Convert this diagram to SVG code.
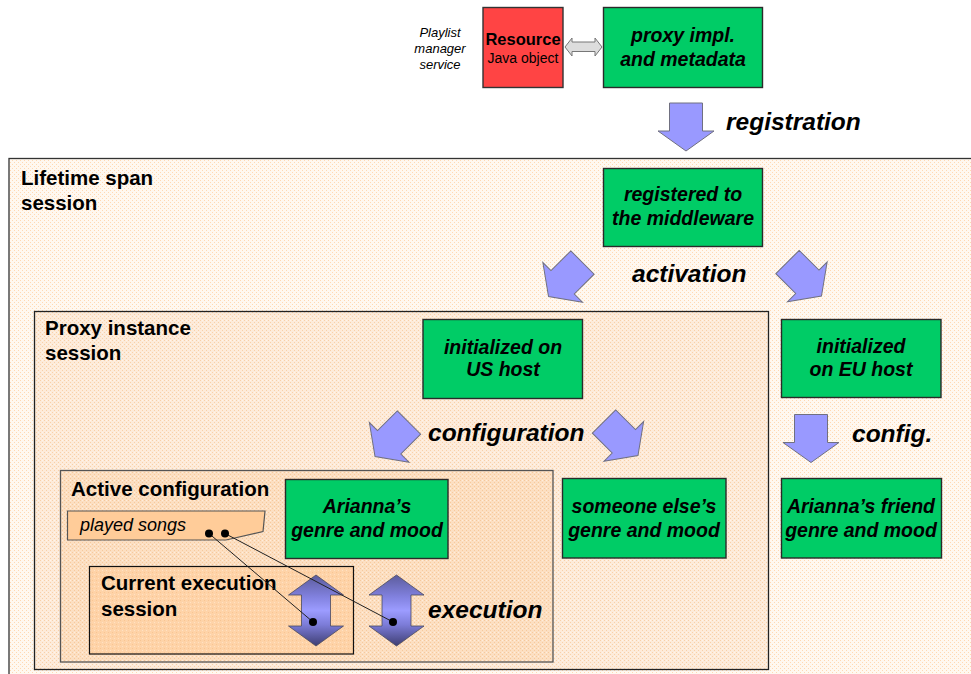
<svg xmlns="http://www.w3.org/2000/svg" width="971" height="674" viewBox="0 0 971 674">
  <defs>
    <style>
      text { font-family: "Liberation Sans", Arial, sans-serif; fill: #000; }
      .title { font-size: 20.5px; font-weight: bold; }
      .box-label { font-size: 19.5px; font-weight: bold; font-style: italic; text-anchor: middle; }
      .step { font-size: 24.5px; font-weight: bold; font-style: italic; }
      .green { fill: #00CC66; stroke: #2a2a2a; stroke-width: 1.4; }
      .flow { fill: #9999FF; stroke: #707080; stroke-width: 1; }
      .exec { fill: url(#execGrad); stroke: #4a4a5a; stroke-width: 0.8; }
      .link { stroke: #222; stroke-width: 1; fill: none; }
    </style>
    <!-- dithered fills of the nested session boxes -->
    <pattern id="pOuter" width="4" height="4" patternUnits="userSpaceOnUse">
      <rect width="4" height="4" fill="#FFF8F0"/>
      <rect x="0" y="0" width="1" height="1" fill="#FFD9B3"/>
      <rect x="2" y="2" width="1" height="1" fill="#FFD9B3"/>
    </pattern>
    <pattern id="pProxy" width="4" height="4" patternUnits="userSpaceOnUse">
      <rect width="4" height="4" fill="#FDEBDA"/>
      <rect x="0" y="0" width="1" height="1" fill="#F8D0A8"/>
      <rect x="2" y="2" width="1" height="1" fill="#F8D0A8"/>
      <rect x="2" y="0" width="1" height="1" fill="#FFF4EA"/>
    </pattern>
    <pattern id="pActive" width="4" height="4" patternUnits="userSpaceOnUse">
      <rect width="4" height="4" fill="#FCDFC2"/>
      <rect x="0" y="0" width="1" height="1" fill="#F6C99C"/>
      <rect x="2" y="2" width="1" height="1" fill="#F6C99C"/>
      <rect x="2" y="0" width="1" height="1" fill="#FFEEDD"/>
    </pattern>
    <pattern id="pExec" width="4" height="4" patternUnits="userSpaceOnUse">
      <rect width="4" height="4" fill="#FED3A8"/>
      <rect x="0" y="0" width="1" height="1" fill="#F9C592"/>
      <rect x="2" y="2" width="1" height="1" fill="#FFE2C4"/>
    </pattern>
    <linearGradient id="execGrad" x1="0" y1="0" x2="0" y2="1">
      <stop offset="0" stop-color="#5C5C9C"/>
      <stop offset="0.3" stop-color="#8080DD"/>
      <stop offset="0.5" stop-color="#9C9CFF"/>
      <stop offset="0.7" stop-color="#7C7CD8"/>
      <stop offset="1" stop-color="#3E3E72"/>
    </linearGradient>
    <!-- block arrow pointing down, centred on the origin -->
    <path id="blockArrow" d="M-16.5,-24 H16.5 V4 H28 L0,24 L-28,4 H-16.5 Z"/>
    <!-- vertical double-headed arrow -->
    <path id="dblArrow" d="M0,-36 L27.5,-16 H14.5 V15 H27.5 L0,35 L-27.5,15 H-14.5 V-16 H-27.5 Z"/>
  </defs>

  <rect width="971" height="674" fill="#FFFFFF"/>

  <!-- session containers -->
  <g id="lifetime-session">
    <rect x="9" y="158.5" width="990" height="540" fill="url(#pOuter)" stroke="#333" stroke-width="1.3"/>
    <text class="title" x="21" y="185">Lifetime span</text>
    <text class="title" x="21" y="210">session</text>
  </g>
  <g id="proxy-instance-session">
    <rect x="34.5" y="311.5" width="734" height="358" fill="url(#pProxy)" stroke="#222" stroke-width="1.3"/>
    <text class="title" x="45" y="335">Proxy instance</text>
    <text class="title" x="45" y="360">session</text>
  </g>
  <g id="active-configuration">
    <rect x="60.5" y="470.5" width="492.5" height="191.5" fill="url(#pActive)" stroke="#555" stroke-width="1.3"/>
    <text class="title" x="71" y="496">Active configuration</text>
  </g>
  <g id="current-execution-session">
    <rect x="89.5" y="566.5" width="264" height="87.5" fill="url(#pExec)" stroke="#111" stroke-width="1.2"/>
    <text class="title" x="101" y="590">Current execution</text>
    <text class="title" x="101" y="616">session</text>
  </g>

  <!-- top row -->
  <g id="playlist-service">
    <text x="440" y="37" font-size="13" font-style="italic" text-anchor="middle">Playlist</text>
    <text x="440" y="53" font-size="13" font-style="italic" text-anchor="middle">manager</text>
    <text x="440" y="69" font-size="13" font-style="italic" text-anchor="middle">service</text>
  </g>
  <g id="resource">
    <rect x="483" y="7.5" width="80" height="80" fill="#FF4444" stroke="#333" stroke-width="1.4"/>
    <text x="523" y="44.5" font-size="16.5" font-weight="bold" text-anchor="middle">Resource</text>
    <text x="523" y="62.5" font-size="14" text-anchor="middle">Java object</text>
  </g>
  <g id="proxy-impl">
    <rect class="green" x="603.5" y="7.5" width="159" height="80"/>
    <text class="box-label" x="683" y="42">proxy impl.</text>
    <text class="box-label" x="683" y="66">and metadata</text>
  </g>

  <!-- green state boxes -->
  <g id="registered">
    <rect class="green" x="603.5" y="168.5" width="159" height="78"/>
    <text class="box-label" x="683" y="201">registered to</text>
    <text class="box-label" x="683" y="225">the middleware</text>
  </g>
  <g id="init-us">
    <rect class="green" x="423" y="319.5" width="159.5" height="79"/>
    <text class="box-label" x="503" y="354">initialized on</text>
    <text class="box-label" x="503" y="376">US host</text>
  </g>
  <g id="init-eu">
    <rect class="green" x="781.5" y="319.5" width="159.5" height="78"/>
    <text class="box-label" x="861" y="353">initialized</text>
    <text class="box-label" x="861" y="376">on EU host</text>
  </g>
  <g id="arianna-config">
    <rect class="green" x="285.5" y="479.5" width="162.5" height="79"/>
    <text class="box-label" x="367" y="513">Arianna’s</text>
    <text class="box-label" x="367" y="537">genre and mood</text>
  </g>
  <g id="someone-config">
    <rect class="green" x="562.5" y="478.5" width="163.5" height="79.5"/>
    <text class="box-label" x="644" y="513">someone else’s</text>
    <text class="box-label" x="644" y="537">genre and mood</text>
  </g>
  <g id="friend-config">
    <rect class="green" x="781.5" y="478.5" width="160" height="79.5"/>
    <text class="box-label" x="861" y="513">Arianna’s friend</text>
    <text class="box-label" x="861" y="537">genre and mood</text>
  </g>
  <g id="played-songs">
    <polygon points="67.5,511 265,511 263,531.5 226,540 67.5,540" fill="#FFCC99" stroke="#555" stroke-width="1.2"/>
    <text x="80" y="531" font-size="18" font-style="italic">played songs</text>
  </g>

  <!-- connectors -->
  <g id="connectors">
    <path d="M565,47 L572,38 V42 H595 V38 L602,47 L595,56 V51.5 H572 V56 Z" fill="#DDDDDD" stroke="#777" stroke-width="1"/>
    <use href="#blockArrow" class="flow" transform="translate(686,127)"/>
    <use href="#blockArrow" class="flow" transform="translate(565.5,279.5) rotate(45)"/>
    <use href="#blockArrow" class="flow" transform="translate(804.5,279) rotate(-45)"/>
    <use href="#blockArrow" class="flow" transform="translate(392,439.5) rotate(45)"/>
    <use href="#blockArrow" class="flow" transform="translate(621,438.5) rotate(-45)"/>
    <use href="#blockArrow" class="flow" transform="translate(811,438.5)"/>
    <use href="#dblArrow" class="exec" transform="translate(316,611)"/>
    <use href="#dblArrow" class="exec" transform="translate(396.5,611)"/>
    <line class="link" x1="209" y1="533.5" x2="313" y2="622"/>
    <line class="link" x1="225" y1="533.5" x2="393" y2="622"/>
    <circle cx="209" cy="533.5" r="4" fill="#000"/>
    <circle cx="225" cy="533.5" r="4" fill="#000"/>
    <circle cx="313" cy="622" r="4" fill="#000"/>
    <circle cx="393" cy="622" r="4" fill="#000"/>
  </g>

  <!-- step labels -->
  <g id="labels">
    <text class="step" x="726" y="130">registration</text>
    <text class="step" x="632" y="281.5">activation</text>
    <text class="step" x="428" y="441">configuration</text>
    <text class="step" x="852" y="442">config.</text>
    <text class="step" x="428" y="618">execution</text>
  </g>
</svg>
